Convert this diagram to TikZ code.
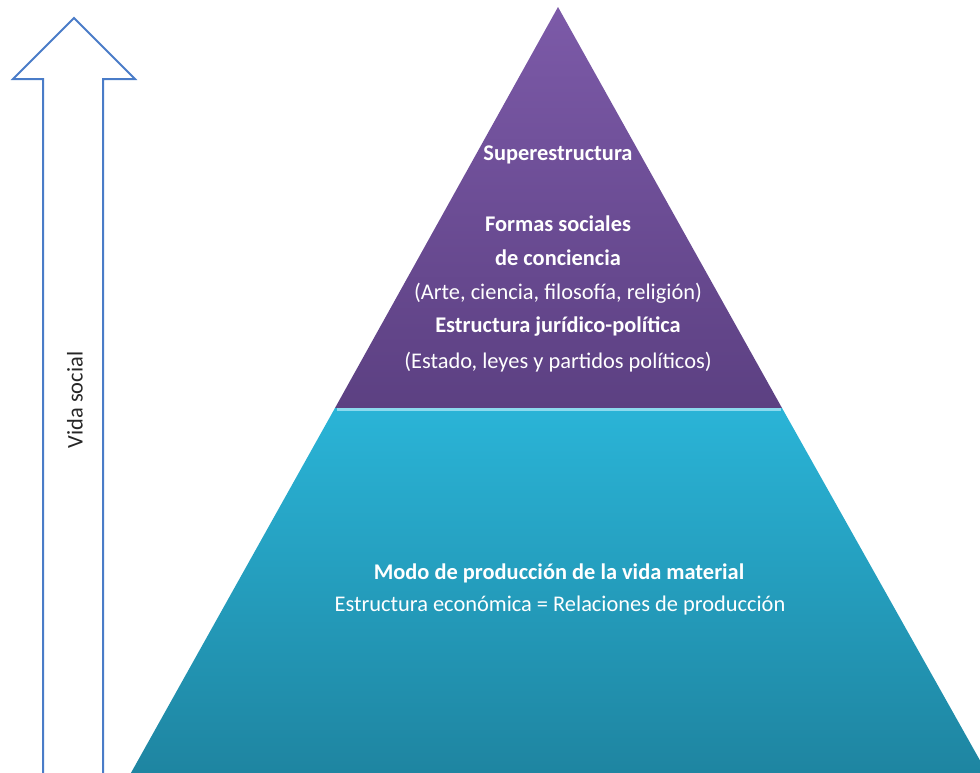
\documentclass[tikz,border=0pt]{standalone}
\usepackage{fontspec}
\setmainfont{Carlito}

\definecolor{supTop}{RGB}{124,90,168}
\definecolor{supBot}{RGB}{92,64,130}
\definecolor{baseTop}{RGB}{42,180,215}
\definecolor{baseBot}{RGB}{30,132,160}
\definecolor{hilite}{RGB}{140,218,238}
\definecolor{arrowblue}{RGB}{74,124,200}

\begin{document}
\begin{tikzpicture}[x=0.5pt,y=-0.5pt,
    lbl/.style={text=white,inner sep=0pt,font=\fontsize{11.2}{13}\selectfont},
    lblb/.style={lbl,font=\fontsize{11.2}{13}\selectfont\bfseries}]
    \useasboundingbox (0,0) rectangle (980,772);

    \begin{scope}
        \clip (0,0) rectangle (980,772);

        % superestructura
        \shade[top color=supTop, bottom color=supBot] (558,7) -- (782,408) -- (335,408) -- cycle;

        % base
        \shade[top color=baseTop, bottom color=baseBot] (335,408) -- (782,408) -- (991,780) -- (127,780) -- cycle;
        \draw[hilite, line width=1.3pt] (337,409.5) -- (781,409.5);

        % flecha
        \draw[arrowblue, line width=1pt, line join=miter] (43,790) -- (43,79) -- (13,79) -- (74,18) -- (135,79) -- (103,79) -- (103,790);
    \end{scope}

    \node[lbl, text=black!85, rotate=90] (vida) at (75,400) {Vida social};

    \node[lblb] (sup) at (558,155) {Superestructura};
    \node[lblb] (formas) at (558,224) {Formas sociales};
    \node[lblb] (conc) at (558,258) {de conciencia};
    \node[lbl] (arte) at (558,293) {(Arte, ciencia, filosofía, religión)};
    \node[lblb] (jur) at (558,327) {Estructura jurídico-política};
    \node[lbl] (estado) at (558,362) {(Estado, leyes y partidos políticos)};

    \node[lblb] (modo) at (559,573) {Modo de producción de la vida material};
    \node[lbl] (econ) at (560,606) {Estructura económica = Relaciones de producción};
\end{tikzpicture}
\end{document}
